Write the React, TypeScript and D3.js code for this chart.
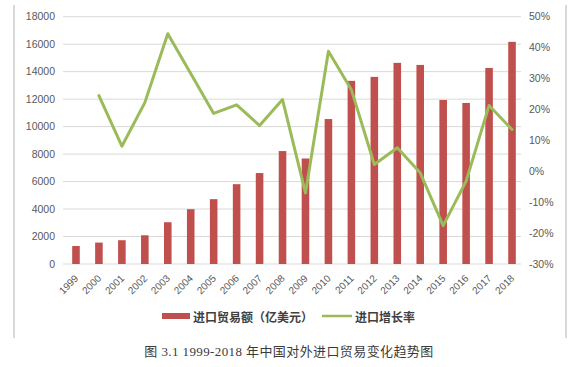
import { scaleBand, scaleLinear, line as d3Line } from "d3";

const years = [
  "1999", "2000", "2001", "2002", "2003", "2004", "2005", "2006", "2007", "2008",
  "2009", "2010", "2011", "2012", "2013", "2014", "2015", "2016", "2017", "2018",
];
const importValues = [
  1310, 1560, 1730, 2090, 3040, 3990, 4720, 5810, 6620, 8220,
  7680, 10550, 13330, 13620, 14640, 14490, 11940, 11720, 14270, 16170,
];
// growth in percent, 1999 has no value
const growthValues: (number | null)[] = [
  null, 24.5, 8.1, 22.2, 44.5, 31.6, 18.7, 21.5, 14.8, 23.2,
  -7.0, 38.8, 26.4, 2.2, 7.6, -0.5, -17.6, -3.2, 21.3, 13.5,
];
const leftTicks = [0, 2000, 4000, 6000, 8000, 10000, 12000, 14000, 16000, 18000];
const rightTicks = [-30, -20, -10, 0, 10, 20, 30, 40, 50];
const rightTickLabels = ["-30%", "-20%", "-10%", "0%", "10%", "20%", "30%", "40%", "50%"];
const legendLabels = ["进口贸易额（亿美元）", "进口增长率"];
const caption = "图 3.1 1999-2018 年中国对外进口贸易变化趋势图";

const BAR = "#C0504D";
const LINE = "#9BBB59";
const GRID = "#d9d9d9";
const TEXT = "#595959";

export default function App() {
  const plot = { left: 63, right: 521, top: 16.7, bottom: 264 };

  const x = scaleBand<string>()
    .domain(years)
    .range([64.5, 523.5])
    .paddingInner(0.67)
    .paddingOuter(0.335);

  const yLeft = scaleLinear().domain([0, 18000]).range([plot.bottom, plot.top]);
  const yRight = scaleLinear().domain([-30, 50]).range([plot.bottom, plot.top]);

  const cx = (y: string) => (x(y) ?? 0) + x.bandwidth() / 2;

  const points = years
    .map((y, i) => ({ year: y, v: growthValues[i] }))
    .filter((d) => d.v !== null) as { year: string; v: number }[];

  const pathD =
    d3Line<{ year: string; v: number }>()
      .x((d) => cx(d.year))
      .y((d) => yRight(d.v))(points) ?? "";

  const font = "'Liberation Sans', Arial, sans-serif";
  const cjk = "'Noto Sans CJK SC', 'Liberation Sans', sans-serif";

  return (
    <svg
      width={578}
      height={367}
      style={{ position: "absolute", left: 0, top: 0, background: "#fff" }}
    >
      {/* chart frame sides */}
      <line x1={14} x2={14} y1={5} y2={338} stroke={GRID} strokeWidth={2} />
      <line x1={566} x2={566} y1={5} y2={338} stroke={GRID} strokeWidth={2} />

      {leftTicks.map((t) => (
        <line
          key={`g-${t}`}
          x1={plot.left}
          x2={plot.right}
          y1={yLeft(t)}
          y2={yLeft(t)}
          stroke={GRID}
          strokeWidth={1}
        />
      ))}

      {leftTicks.map((t) => (
        <text
          key={`l-${t}`}
          x={55}
          y={yLeft(t)}
          dy="0.35em"
          textAnchor="end"
          fontSize={10.5}
          fontFamily={font}
          fill={TEXT}
        >
          {t}
        </text>
      ))}

      {rightTicks.map((t, i) => (
        <text
          key={`r-${t}`}
          x={529}
          y={yRight(t)}
          dy="0.35em"
          fontSize={10.5}
          fontFamily={font}
          fill={TEXT}
        >
          {rightTickLabels[i]}
        </text>
      ))}

      {years.map((y, i) => (
        <rect
          key={`b-${y}`}
          x={x(y)}
          y={yLeft(importValues[i])}
          width={x.bandwidth()}
          height={plot.bottom - yLeft(importValues[i])}
          fill={BAR}
        />
      ))}

      <path
        d={pathD}
        fill="none"
        stroke={LINE}
        strokeWidth={3}
        strokeLinejoin="round"
        strokeLinecap="round"
      />

      {years.map((y) => (
        <text
          key={`x-${y}`}
          transform={`translate(${cx(y) + 3},${279}) rotate(-45)`}
          textAnchor="end"
          fontSize={10}
          fontFamily={font}
          fill={TEXT}
        >
          {y}
        </text>
      ))}

      {/* legend */}
      <rect x={162} y={313} width={28} height={6} fill={BAR} />
      <text
        x={193}
        y={316}
        dominantBaseline="central"
        fontSize={12}
        fontWeight="bold"
        fontFamily={cjk}
        fill="#404040"
      >
        {legendLabels[0]}
      </text>
      <line x1={322} x2={352} y1={316} y2={316} stroke={LINE} strokeWidth={2.5} />
      <text
        x={355}
        y={316}
        dominantBaseline="central"
        fontSize={12}
        fontWeight="bold"
        fontFamily={cjk}
        fill="#404040"
      >
        {legendLabels[1]}
      </text>

      <text
        x={289}
        y={351}
        dominantBaseline="central"
        textAnchor="middle"
        fontSize={13}
        letterSpacing={0.4}
        fontFamily="'Liberation Serif', 'Noto Sans CJK SC', serif"
        fill="#3a3a3a"
      >
        {caption}
      </text>
    </svg>
  );
}
